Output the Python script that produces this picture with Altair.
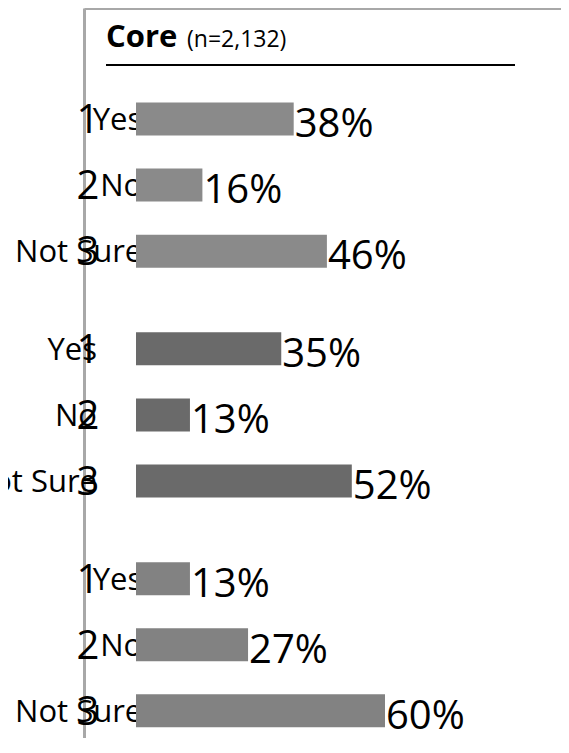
import altair as alt
import pandas as pd

# ---- data ----
categories = ["Yes", "No", "Not Sure"]
codes = ["1", "2", "3"]
group_ids = [1, 2, 3]
values_group1 = [38, 16, 46]
values_group2 = [35, 13, 52]
values_group3 = [13, 27, 60]
title_main = "Core"
title_sub = "(n=2,132)"

# ---- layout constants ----
PX_PER_PCT = 4.15      # pixels per percentage point
ZERO_PX = 52           # where 0% sits inside the plot area
PLOT_W = 477
PLOT_H = 730
ROW_STEP = 67          # px between rows
GROUP_GAP = 32         # extra px between groups
FIRST_ROW_PX = 107.5   # centre of the first bar inside the plot area
FONT = "Open Sans"

rows = []
for g, vals in zip(group_ids, [values_group1, values_group2, values_group3]):
    for i, (cat, code, v) in enumerate(zip(categories, codes, vals)):
        rows.append(
            dict(
                group=g,
                category=cat,
                code=code,
                value=v,
                label=f"{v}%",
                row=(3 * (g - 1) + i) + (g - 1) * GROUP_GAP / ROW_STEP,
                cat_anchor=-9.4 if g == 2 else 1.5,
                code_anchor=-11.6,
            )
        )
df = pd.DataFrame(rows)

x_scale = alt.Scale(
    domain=[-ZERO_PX / PX_PER_PCT, (PLOT_W - ZERO_PX) / PX_PER_PCT], nice=False, zero=False
)
y_scale = alt.Scale(
    domain=[-FIRST_ROW_PX / ROW_STEP, (PLOT_H - FIRST_ROW_PX) / ROW_STEP],
    nice=False, zero=False, reverse=True,
)
border = "#a8a8a8"
x_axis = alt.Axis(orient="top", labels=False, ticks=False, title=None, grid=False,
                  domainColor=border, domainWidth=3)
y_axis = alt.Axis(orient="left", labels=False, ticks=False, title=None, grid=False,
                  domainColor=border, domainWidth=3)


def X(field):
    return alt.X(field, scale=x_scale, axis=x_axis)


def Y(field):
    return alt.Y(field, scale=y_scale, axis=y_axis)


base = alt.Chart(df)

cat_text = base.mark_text(
    align="right", baseline="alphabetic", font=FONT, fontSize=31, dy=11, color="black"
).encode(x=X("cat_anchor:Q"), y=Y("row:Q"), text="category:N")

bars = base.mark_bar(orient="horizontal", size=33).encode(
    x=X("value:Q"),
    x2=alt.datum(0),
    y=Y("row:Q"),
    color=alt.Color("group:N", scale=alt.Scale(domain=group_ids,
                    range=["#8a8a8a", "#6a6a6a", "#828282"]), legend=None),
)

code_text = base.mark_text(
    align="center", baseline="alphabetic", font=FONT, fontSize=40, dy=14, color="black"
).encode(x=X("code_anchor:Q"), y=Y("row:Q"), text="code:N")

pct_text = base.mark_text(
    align="left", baseline="alphabetic", font=FONT, fontSize=40, dx=1, dy=18, color="black"
).encode(x=X("value:Q"), y=Y("row:Q"), text="label:N")

title1 = alt.Chart(pd.DataFrame({"t": [title_main]})).mark_text(
    align="left", baseline="alphabetic", font=FONT, fontSize=31, fontWeight="bold", color="black"
).encode(x=alt.value(22), y=alt.value(39), text="t:N")

title2 = alt.Chart(pd.DataFrame({"t": [title_sub]})).mark_text(
    align="left", baseline="alphabetic", font=FONT, fontSize=23, color="black"
).encode(x=alt.value(103), y=alt.value(39), text="t:N")

underline = alt.Chart(pd.DataFrame({"t": [0]})).mark_rule(
    color="black", strokeWidth=2
).encode(x=alt.value(22), x2=alt.value(431), y=alt.value(57))

chart = (
    alt.layer(cat_text, bars, code_text, pct_text, title1, title2, underline)
    .properties(
        width=PLOT_W,
        height=PLOT_H,
        padding={"left": 76, "top": 0, "right": 0, "bottom": 0},
        autosize=alt.AutoSizeParams(type="none"),
        background="white",
    )
    .configure_view(stroke=None)
)

chart.save("out.html", embed_options={"renderer": "svg", "actions": False})
